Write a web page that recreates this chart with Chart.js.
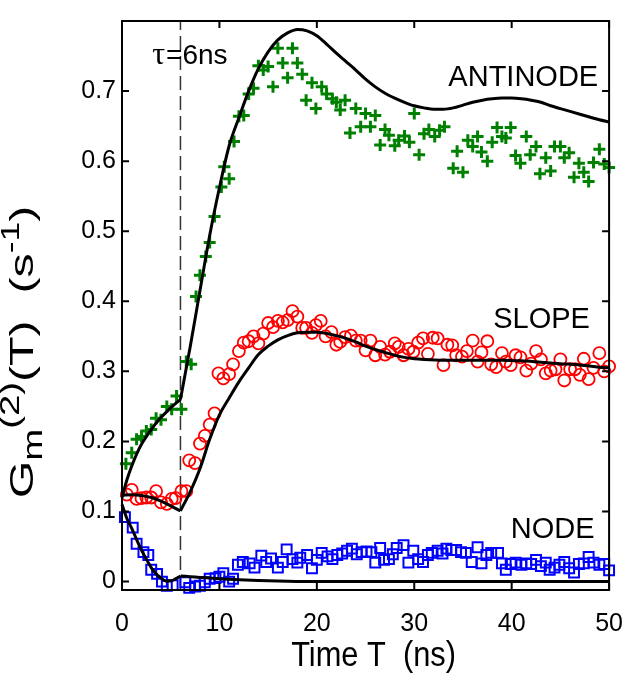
<!DOCTYPE html>
<html>
<head>
<meta charset="utf-8">
<script src="https://cdn.jsdelivr.net/npm/chart.js@4.4.1/dist/chart.umd.min.js"></script>
<style>
  html, body { margin: 0; padding: 0; background: #fff; }
</style>
</head>
<body>
<canvas id="c" width="634" height="678"></canvas>
<script>
const xTicks = [0, 10, 20, 30, 40, 50]
const yTicks = [0, 0.1, 0.2, 0.3, 0.4, 0.5, 0.6, 0.7]
const tau = 6

// measured points, ANTINODE (green +)
const antinodeX = [0.4, 1.0, 1.5, 2.0, 2.5, 3.0, 3.5, 4.0, 4.6, 5.1, 5.6, 6.1, 6.6, 7.1, 7.6, 8.0, 8.6, 9.0, 9.5, 10.2,
  10.5, 11.0, 11.5, 12.0, 12.5, 13.0, 13.5, 14.0, 14.5, 15.0, 15.5, 16.0, 16.5, 17.0, 17.5, 18.0, 18.5, 18.9, 19.5, 19.9,
  20.5, 21.0, 21.6, 22.0, 22.4, 22.9, 23.4, 24.0, 24.5, 25.0, 25.5, 26.0, 26.5, 27.0, 27.4, 28.0, 28.4, 29.0, 29.5, 30.0,
  30.5, 31.0, 31.5, 32.1, 32.6, 33.1, 34.0, 34.4, 35.0, 35.5, 36.0, 36.5, 36.9, 37.5, 38.0, 38.5, 39.0, 39.4, 39.9, 40.4,
  40.9, 41.5, 41.9, 42.5, 42.9, 43.5, 44.0, 44.4, 45.0, 45.4, 45.9, 46.4, 46.9, 47.4, 47.9, 48.4, 49.0, 49.5, 50.0]
const antinodeY = [0.168, 0.184, 0.203, 0.207, 0.215, 0.217, 0.233, 0.231, 0.25, 0.246, 0.265, 0.246, 0.314, 0.31, 0.407, 0.437, 0.464, 0.484, 0.521, 0.563,
  0.592, 0.575, 0.628, 0.664, 0.665, 0.696, 0.704, 0.736, 0.73, 0.735, 0.706, 0.761, 0.74, 0.719, 0.761, 0.74, 0.724, 0.687, 0.712, 0.675,
  0.706, 0.696, 0.689, 0.684, 0.673, 0.687, 0.64, 0.675, 0.649, 0.668, 0.649, 0.665, 0.623, 0.645, 0.637, 0.622, 0.63, 0.636, 0.627, 0.668,
  0.609, 0.639, 0.645, 0.635, 0.644, 0.649, 0.59, 0.614, 0.584, 0.63, 0.621, 0.635, 0.613, 0.6, 0.627, 0.648, 0.635, 0.633, 0.648, 0.608,
  0.597, 0.635, 0.609, 0.621, 0.582, 0.605, 0.586, 0.621, 0.621, 0.605, 0.612, 0.577, 0.597, 0.584, 0.571, 0.598, 0.617, 0.596, 0.591]

// measured points, SLOPE (red o)
const slopeX = [0.5, 1.0, 1.5, 2.0, 2.5, 3.0, 3.5, 4.0, 4.6, 5.1, 5.5, 6.1, 6.6, 6.9, 7.5, 8.0, 8.5, 9.0, 9.5, 9.9,
  10.4, 11.0, 11.4, 12.0, 12.5, 13.0, 13.5, 14.0, 14.5, 15.0, 15.5, 16.0, 16.5, 17.0, 17.5, 18.0, 18.5, 18.9, 19.5, 19.9,
  20.4, 20.9, 21.5, 22.0, 22.4, 22.9, 23.5, 24.0, 24.5, 25.0, 25.5, 26.0, 26.5, 27.0, 27.5, 28.0, 28.4, 28.9, 29.4, 29.9,
  30.4, 30.9, 31.4, 31.9, 32.4, 33.0, 33.4, 33.9, 34.3, 34.9, 35.4, 36.0, 36.5, 36.9, 37.5, 37.9, 38.4, 39.0, 39.4, 39.9,
  40.4, 40.9, 41.5, 42.0, 42.5, 43.0, 43.5, 44.0, 44.5, 45.0, 45.4, 46.0, 46.5, 47.0, 47.4, 47.9, 48.4, 49.0, 49.5, 50.0]
const slopeY = [0.124, 0.131, 0.118, 0.119, 0.12, 0.12, 0.129, 0.113, 0.111, 0.118, 0.119, 0.129, 0.129, 0.173, 0.169, 0.197, 0.208, 0.224, 0.24, 0.297,
  0.29, 0.296, 0.31, 0.329, 0.341, 0.343, 0.35, 0.34, 0.354, 0.369, 0.363, 0.372, 0.37, 0.373, 0.386, 0.378, 0.362, 0.362, 0.355, 0.366,
  0.372, 0.35, 0.356, 0.338, 0.342, 0.349, 0.351, 0.344, 0.344, 0.33, 0.344, 0.323, 0.335, 0.324, 0.328, 0.34, 0.335, 0.323, 0.332, 0.328,
  0.341, 0.347, 0.325, 0.348, 0.347, 0.309, 0.338, 0.337, 0.323, 0.321, 0.329, 0.344, 0.314, 0.327, 0.343, 0.31, 0.306, 0.326, 0.314, 0.309,
  0.323, 0.32, 0.301, 0.311, 0.329, 0.317, 0.297, 0.301, 0.303, 0.317, 0.287, 0.303, 0.303, 0.295, 0.318, 0.289, 0.305, 0.326, 0.3, 0.307]

// measured points, NODE (blue squares)
const nodeX = [0.3, 1.1, 1.5, 2.2, 2.7, 3.0, 3.6, 4.1, 4.6, 5.2, 6.5, 6.9, 7.5, 8.0, 8.5, 9.0, 9.6, 10.0, 10.4, 11.0,
  11.4, 11.9, 12.4, 13.1, 13.6, 14.3, 14.8, 15.3, 16.0, 16.5, 16.9, 17.5, 18.0, 18.3, 19.0, 19.5, 20.0, 20.5, 21.1, 21.6,
  22.1, 22.6, 23.1, 23.6, 24.1, 24.6, 25.1, 25.6, 26.0, 26.5, 26.9, 27.4, 27.8, 28.2, 28.9, 29.4, 29.9, 30.4, 30.9, 31.4,
  31.8, 32.4, 32.9, 33.3, 33.8, 34.3, 34.8, 35.3, 35.9, 36.5, 36.9, 37.4, 37.9, 38.6, 39.0, 39.4, 39.9, 40.4, 41.0, 41.5,
  42.0, 42.5, 43.0, 43.5, 43.9, 44.4, 44.9, 45.4, 45.9, 46.4, 46.9, 47.4, 47.9, 48.4, 49.0, 49.5, 50.0]
const nodeY = [0.092, 0.077, 0.054, 0.042, 0.038, 0.017, 0.011, 0.0, -0.006, -0.005, -0.001, -0.009, -0.007, -0.006, -0.001, 0.004, 0.005, 0.007, 0.012, 0.0,
  0.004, 0.024, 0.028, 0.026, 0.02, 0.037, 0.028, 0.033, 0.02, 0.028, 0.046, 0.032, 0.027, 0.034, 0.038, 0.019, 0.031, 0.041, 0.036, 0.032,
  0.038, 0.04, 0.044, 0.047, 0.039, 0.042, 0.043, 0.042, 0.027, 0.048, 0.031, 0.032, 0.039, 0.048, 0.052, 0.027, 0.044, 0.032, 0.028, 0.038,
  0.041, 0.044, 0.04, 0.047, 0.045, 0.045, 0.042, 0.041, 0.028, 0.049, 0.026, 0.038, 0.041, 0.041, 0.026, 0.017, 0.025, 0.027, 0.024, 0.026,
  0.025, 0.031, 0.022, 0.027, 0.017, 0.02, 0.024, 0.028, 0.019, 0.013, 0.025, 0.026, 0.035, 0.027, 0.024, 0.025, 0.016]

// model curves (black), kink at tau
const fitAntinodeX = [0, 0.5, 1, 1.5, 2, 3, 4, 5, 6, 7, 8, 9, 10, 11, 12, 13, 14, 15, 16, 17, 18, 19, 20, 21, 22, 23, 24, 25,
  26, 27, 28, 29, 30, 31, 32, 33, 34, 35, 36, 37, 38, 39, 40, 41, 42, 43, 44, 45, 46, 47, 48, 49, 50]
const fitAntinodeY = [0.12, 0.145, 0.165, 0.182, 0.196, 0.217, 0.234, 0.248, 0.26, 0.335, 0.415, 0.494, 0.562, 0.622, 0.662, 0.7, 0.732, 0.756, 0.773, 0.783, 0.788, 0.786, 0.779, 0.767, 0.754, 0.742, 0.73, 0.717,
  0.706, 0.697, 0.69, 0.684, 0.679, 0.676, 0.674, 0.674, 0.676, 0.68, 0.684, 0.687, 0.689, 0.69, 0.69, 0.689, 0.687, 0.684, 0.679, 0.675, 0.671, 0.667, 0.663, 0.659, 0.656]
const fitSlopeX = [0, 1, 2, 3, 4, 5, 6, 7, 8, 9, 10, 11, 12, 13, 14, 15, 16, 17, 18, 19, 20, 21, 22, 23, 24, 25, 26, 27, 28,
  29, 30, 31, 33, 35, 37, 39, 41, 43, 45, 47, 49, 50]
const fitSlopeY = [0.123, 0.124, 0.123, 0.12, 0.115, 0.108, 0.101, 0.128, 0.161, 0.203, 0.238, 0.262, 0.285, 0.305, 0.324, 0.336, 0.345, 0.351, 0.355, 0.356, 0.356, 0.354, 0.351, 0.347, 0.342, 0.336, 0.331, 0.327, 0.323,
  0.32, 0.318, 0.317, 0.316, 0.316, 0.316, 0.316, 0.315, 0.313, 0.311, 0.309, 0.306, 0.305]
const fitNodeX = [0, 0.5, 1, 1.5, 2, 2.5, 3, 3.5, 4, 4.5, 5, 5.5, 6, 7, 8, 10, 12, 14, 17, 20, 30, 40, 50]
const fitNodeY = [0.11, 0.09, 0.076, 0.06, 0.045, 0.032, 0.02, 0.011, 0.005, 0.001, 0.001, 0.004, 0.008, 0.007, 0.006, 0.004, 0.0025, 0.0015, 0.0005, 0, 0, 0, 0]

const FONT = "'Liberation Sans', Arial, sans-serif"

function pts (xs, ys) {
  return xs.map((x, i) => ({ x: x, y: ys[i] }))
}

function fitSets (xs, ys) {
  const all = pts(xs, ys)
  const common = {
    showLine: true,
    pointRadius: 0,
    borderColor: '#000',
    borderWidth: 3,
    cubicInterpolationMode: 'monotone',
    clip: false,
    order: 0
  }
  return [
    Object.assign({ data: all.filter(p => p.x <= tau) }, common),
    Object.assign({ data: all.filter(p => p.x >= tau) }, common)
  ]
}

function drawYTitle (ctx, bx, cy) {
  const parts = [
    { t: 'G', size: 34, dy: 0 },
    { t: 'm', size: 27, dy: 9 },
    { t: '(2)', size: 27, dy: -14 },
    { t: '(T)  (s', size: 34, dy: 0 },
    { t: '-1', size: 25, dy: -14 },
    { t: ')', size: 34, dy: 0 }
  ]
  let total = 0
  parts.forEach(p => {
    ctx.font = p.size + 'px ' + FONT
    p.w = ctx.measureText(p.t).width
    total += p.w
  })
  const sx = 1.42
  ctx.save()
  ctx.translate(bx, cy)
  ctx.rotate(-Math.PI / 2)
  ctx.scale(sx, 1)
  ctx.fillStyle = '#000'
  ctx.textBaseline = 'alphabetic'
  let u = -total / 2
  parts.forEach(p => {
    ctx.font = p.size + 'px ' + FONT
    ctx.fillText(p.t, u, p.dy)
    u += p.w
  })
  ctx.restore()
}

const frame = {
  id: 'frame',
  afterDatasetsDraw (chart) {
    const { ctx, chartArea: a, scales: { x, y } } = chart
    ctx.save()
    ctx.strokeStyle = '#000'
    ctx.lineWidth = 2
    ctx.strokeRect(a.left, a.top, a.right - a.left, a.bottom - a.top)
    ctx.beginPath()
    xTicks.forEach(v => {
      const px = x.getPixelForValue(v)
      ctx.moveTo(px, a.bottom); ctx.lineTo(px, a.bottom - 7)
      ctx.moveTo(px, a.top); ctx.lineTo(px, a.top + 7)
    })
    yTicks.forEach(v => {
      const py = y.getPixelForValue(v)
      ctx.moveTo(a.left, py); ctx.lineTo(a.left + 7, py)
      ctx.moveTo(a.right, py); ctx.lineTo(a.right - 7, py)
    })
    ctx.stroke()

    // curve names
    ctx.fillStyle = '#000'
    ctx.textBaseline = 'alphabetic'
    ctx.textAlign = 'left'
    ctx.font = '29px ' + FONT
    ctx.fillText('ANTINODE', x.getPixelForValue(33.5), y.getPixelForValue(0.707))
    ctx.fillText('SLOPE', x.getPixelForValue(38.1), y.getPixelForValue(0.3626))
    ctx.fillText('NODE', x.getPixelForValue(39.9), y.getPixelForValue(0.0628))
    // tau marker text
    const tx = x.getPixelForValue(3.1)
    const ty = y.getPixelForValue(0.739)
    ctx.font = "32px 'Liberation Serif', serif"
    ctx.fillText('τ', tx, ty)
    const tw = ctx.measureText('τ').width
    ctx.font = '28px ' + FONT
    ctx.fillText('=6ns', tx + tw + 1, ty)

    // axis titles
    ctx.save()
    ctx.translate((a.left + a.right) / 2 + 8, 666)
    ctx.scale(0.88, 1)
    ctx.textAlign = 'center'
    ctx.font = '35px ' + FONT
    ctx.fillText('Time T  (ns)', 0, 0)
    ctx.restore()
    drawYTitle(ctx, 33, 352)
    ctx.restore()
  }
}

new Chart(document.getElementById('c').getContext('2d'), {
  type: 'scatter',
  data: {
    datasets: [
      {
        data: [{ x: tau, y: -0.012 }, { x: tau, y: 0.8 }],
        showLine: true,
        pointRadius: 0,
        borderColor: '#333',
        borderWidth: 1.5,
        borderDash: [14, 6],
        order: 3
      },
      {
        data: pts(antinodeX, antinodeY),
        pointStyle: 'cross',
        pointRadius: 6,
        borderColor: '#008000',
        borderWidth: 3,
        clip: false,
        order: 2
      },
      {
        data: pts(slopeX, slopeY),
        pointStyle: 'circle',
        pointRadius: 6,
        borderColor: '#ff0000',
        backgroundColor: 'rgba(0,0,0,0)',
        borderWidth: 1.8,
        clip: false,
        order: 2
      },
      {
        data: pts(nodeX, nodeY),
        pointStyle: 'rect',
        pointRadius: 7,
        borderColor: '#0000ff',
        backgroundColor: 'rgba(0,0,0,0)',
        borderWidth: 2,
        clip: false,
        order: 2
      },
      ...fitSets(fitAntinodeX, fitAntinodeY),
      ...fitSets(fitSlopeX, fitSlopeY),
      ...fitSets(fitNodeX, fitNodeY)
    ]
  },
  options: {
    responsive: false,
    animation: false,
    devicePixelRatio: 1,
    layout: { padding: { top: 8, right: 22, left: 0, bottom: 0 } },
    plugins: {
      legend: { display: false },
      tooltip: { enabled: false }
    },
    scales: {
      x: {
        type: 'linear',
        min: 0,
        max: 50,
        grid: { display: false },
        border: { display: false },
        afterBuildTicks: (scale) => { scale.ticks = xTicks.map(v => ({ value: v })) },
        afterFit: (scale) => { scale.height = 88 },
        ticks: {
          color: '#000',
          padding: 11,
          maxRotation: 0,
          font: { family: FONT, size: 25 }
        }
      },
      y: {
        type: 'linear',
        min: -0.012,
        max: 0.8,
        grid: { display: false, drawTicks: false },
        border: { display: false },
        afterBuildTicks: (scale) => { scale.ticks = yTicks.map(v => ({ value: v })) },
        afterFit: (scale) => { scale.width = 122 },
        ticks: {
          color: '#000',
          padding: 6,
          font: { family: FONT, size: 25 },
          callback: (v) => v === 0 ? '0' : v.toFixed(1)
        }
      }
    }
  },
  plugins: [frame]
})
</script>
</body>
</html>
